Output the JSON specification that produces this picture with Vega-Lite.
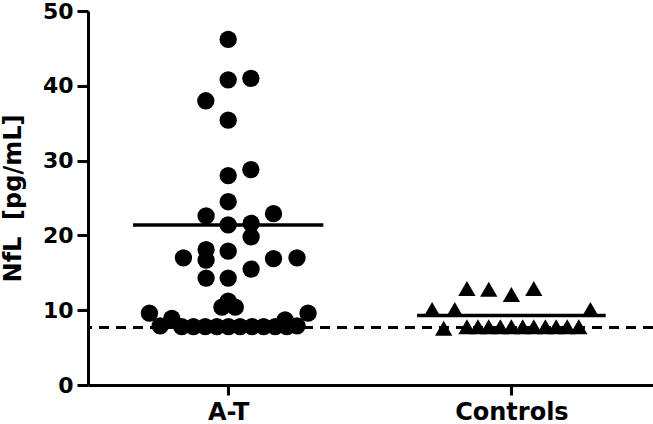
{
  "$schema": "https://vega.github.io/schema/vega-lite/v6.json",
  "autosize": {"type": "none"},
  "padding": {"left": 88, "top": 11, "right": 0, "bottom": 39},
  "width": 565,
  "height": 374,
  "background": "white",
  "config": {
    "view": {"stroke": null},
    "font": "DejaVu Sans",
    "axis": {
      "grid": false,
      "domainColor": "black",
      "domainWidth": 3,
      "tickColor": "black",
      "tickWidth": 3,
      "labelColor": "black",
      "labelFont": "DejaVu Sans",
      "labelFontWeight": "bold",
      "titleFont": "DejaVu Sans",
      "titleFontWeight": "bold",
      "titleColor": "black"
    }
  },
  "datasets": {
    "points": [
      {"group": "A-T", "pos": 1.0, "nfl": 46.2},
      {"group": "A-T", "pos": 1.0, "nfl": 40.8},
      {"group": "A-T", "pos": 1.08, "nfl": 41.0},
      {"group": "A-T", "pos": 0.921, "nfl": 38.0},
      {"group": "A-T", "pos": 1.0, "nfl": 35.4},
      {"group": "A-T", "pos": 1.0, "nfl": 28.0},
      {"group": "A-T", "pos": 1.08, "nfl": 28.8},
      {"group": "A-T", "pos": 1.0, "nfl": 24.5},
      {"group": "A-T", "pos": 0.922, "nfl": 22.6},
      {"group": "A-T", "pos": 1.16, "nfl": 22.9},
      {"group": "A-T", "pos": 1.0, "nfl": 21.4},
      {"group": "A-T", "pos": 1.081, "nfl": 21.6},
      {"group": "A-T", "pos": 1.081, "nfl": 19.8},
      {"group": "A-T", "pos": 0.922, "nfl": 18.1},
      {"group": "A-T", "pos": 1.0, "nfl": 17.9},
      {"group": "A-T", "pos": 0.842, "nfl": 17.0},
      {"group": "A-T", "pos": 0.922, "nfl": 16.7},
      {"group": "A-T", "pos": 1.16, "nfl": 16.9},
      {"group": "A-T", "pos": 1.243, "nfl": 17.0},
      {"group": "A-T", "pos": 1.081, "nfl": 15.5},
      {"group": "A-T", "pos": 0.922, "nfl": 14.3},
      {"group": "A-T", "pos": 1.0, "nfl": 14.3},
      {"group": "A-T", "pos": 1.0, "nfl": 11.2},
      {"group": "A-T", "pos": 0.978, "nfl": 10.4},
      {"group": "A-T", "pos": 1.025, "nfl": 10.4},
      {"group": "A-T", "pos": 0.722, "nfl": 9.6},
      {"group": "A-T", "pos": 1.282, "nfl": 9.6},
      {"group": "A-T", "pos": 0.801, "nfl": 8.9},
      {"group": "A-T", "pos": 1.201, "nfl": 8.7},
      {"group": "A-T", "pos": 0.76, "nfl": 7.9},
      {"group": "A-T", "pos": 0.836, "nfl": 7.8},
      {"group": "A-T", "pos": 0.877, "nfl": 7.8},
      {"group": "A-T", "pos": 0.919, "nfl": 7.8},
      {"group": "A-T", "pos": 0.96, "nfl": 7.8},
      {"group": "A-T", "pos": 1.001, "nfl": 7.8},
      {"group": "A-T", "pos": 1.042, "nfl": 7.8},
      {"group": "A-T", "pos": 1.084, "nfl": 7.8},
      {"group": "A-T", "pos": 1.125, "nfl": 7.8},
      {"group": "A-T", "pos": 1.166, "nfl": 7.8},
      {"group": "A-T", "pos": 1.207, "nfl": 7.8},
      {"group": "A-T", "pos": 1.243, "nfl": 7.9},
      {"group": "Controls", "pos": 1.843, "nfl": 12.9},
      {"group": "Controls", "pos": 1.92, "nfl": 12.8},
      {"group": "Controls", "pos": 2.0, "nfl": 12.1},
      {"group": "Controls", "pos": 2.079, "nfl": 12.9},
      {"group": "Controls", "pos": 1.72, "nfl": 10.1},
      {"group": "Controls", "pos": 1.8, "nfl": 10.1},
      {"group": "Controls", "pos": 2.279, "nfl": 10.1},
      {"group": "Controls", "pos": 1.761, "nfl": 7.6},
      {"group": "Controls", "pos": 1.843, "nfl": 7.8},
      {"group": "Controls", "pos": 1.882, "nfl": 7.8},
      {"group": "Controls", "pos": 1.92, "nfl": 7.8},
      {"group": "Controls", "pos": 1.961, "nfl": 7.8},
      {"group": "Controls", "pos": 2.0, "nfl": 7.8},
      {"group": "Controls", "pos": 2.04, "nfl": 7.8},
      {"group": "Controls", "pos": 2.079, "nfl": 7.8},
      {"group": "Controls", "pos": 2.12, "nfl": 7.8},
      {"group": "Controls", "pos": 2.158, "nfl": 7.8},
      {"group": "Controls", "pos": 2.197, "nfl": 7.8},
      {"group": "Controls", "pos": 2.238, "nfl": 7.8}
    ],
    "means": [
      {"group": "A-T", "lo": 0.664, "hi": 1.336, "mean": 21.4},
      {"group": "Controls", "lo": 1.667, "hi": 2.333, "mean": 9.3}
    ]
  },
  "layer": [
    {
      "data": {"values": [{"lloq": 7.7}]},
      "mark": {"type": "rule", "color": "black", "strokeWidth": 3, "strokeDash": [10, 7]},
      "encoding": {"y": {"field": "lloq", "type": "quantitative", "scale": {"domain": [0, 50]}}}
    },
    {
      "data": {"name": "points"},
      "mark": {"type": "point", "filled": true, "color": "black", "opacity": 1, "size": 300},
      "encoding": {
        "x": {
          "field": "pos", "type": "quantitative",
          "scale": {"domain": [0.505, 2.5], "nice": false, "zero": false},
          "axis": {"values": [1, 2], "tickSize": 10, "labelPadding": 5, "labelFontSize": 24, "title": null,
                   "labelExpr": "datum.value == 1 ? 'A-T' : 'Controls'"}
        },
        "y": {
          "field": "nfl", "type": "quantitative",
          "scale": {"domain": [0, 50], "nice": false},
          "axis": {"values": [0, 10, 20, 30, 40, 50], "tickSize": 11, "labelPadding": 4, "labelFontSize": 22,
                   "title": "NfL\u00a0 [pg/mL]", "titleFontSize": 24, "titlePadding": 17}
        },
        "shape": {
          "field": "group", "type": "nominal",
          "scale": {"domain": ["A-T", "Controls"], "range": ["circle", "triangle-up"]},
          "legend": null
        }
      }
    },
    {
      "data": {"name": "means"},
      "mark": {"type": "rule", "color": "black", "strokeWidth": 3.5},
      "encoding": {
        "x": {"field": "lo", "type": "quantitative"},
        "x2": {"field": "hi"},
        "y": {"field": "mean", "type": "quantitative"}
      }
    }
  ]
}
